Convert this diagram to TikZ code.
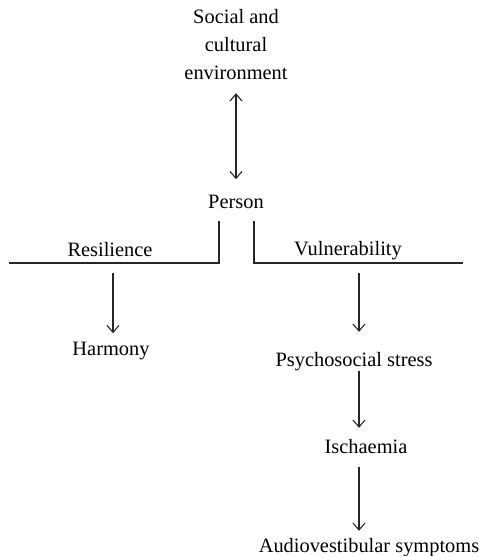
\documentclass[tikz,border=0pt]{standalone}
\usepackage{fontspec}
\setmainfont{Liberation Serif}
\usetikzlibrary{arrows.meta}
\begin{document}
\begin{tikzpicture}[x=0.5pt,y=-0.5pt,
  font=\fontsize{10.2}{14}\selectfont,
  txt/.style={inner sep=0pt, anchor=base},
  ln/.style={line width=0.55pt, draw=black!85},
  arr/.style={ln, -{Straight Barb[length=3.5pt,width=6pt,line width=0.55pt]}},
  dbl/.style={ln, {Straight Barb[length=3.5pt,width=6pt,line width=0.55pt]}-{Straight Barb[length=3.5pt,width=6pt,line width=0.55pt]}}]
\useasboundingbox (0,0) rectangle (485,556);
\node[inner sep=0pt, anchor=north, align=center] (soc) at (236,9) {Social and\\cultural\\environment};
\node[txt] (person) at (236,208) {Person};
\node[txt] (res) at (110,256) {Resilience};
\node[txt] (vul) at (348,255) {Vulnerability};
\node[txt] (harm) at (111,355) {Harmony};
\node[txt] (psy) at (354,366) {Psychosocial stress};
\node[txt] (isc) at (366,453) {Ischaemia};
\node[txt] (aud) at (369,552) {Audiovestibular symptoms};
\coordinate (ltop) at (219,221);
\coordinate (lcorner) at (219,263);
\coordinate (lend) at (9,263);
\coordinate (rtop) at (254,221);
\coordinate (rcorner) at (254,263);
\coordinate (rend) at (463,263);
\coordinate (lfoot) at (113,263);
\coordinate (rfoot) at (359,263);
\draw[ln] (ltop) -- (lcorner) -- (lend);
\draw[ln] (rtop) -- (rcorner) -- (rend);
\draw[dbl, shorten <=6.5pt, shorten >=7.5pt] (soc.south) -- (person.north);
\draw[arr, shorten <=5pt, shorten >=4pt] (lfoot) -- (lfoot |- harm.north);
\draw[arr, shorten <=5pt, shorten >=9.8pt] (rfoot) -- (rfoot |- psy.north);
\draw[arr, shorten <=0pt, shorten >=5.3pt] (rfoot |- psy.south) -- (rfoot |- isc.north);
\draw[arr, shorten <=6.5pt, shorten >=3.3pt] (rfoot |- isc.south) -- (rfoot |- aud.north);
\end{tikzpicture}
\end{document}
